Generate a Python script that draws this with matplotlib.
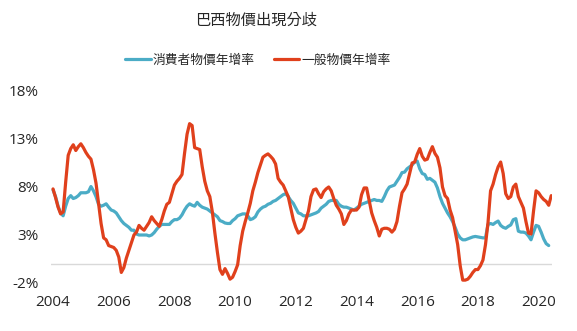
import numpy as np
import matplotlib
matplotlib.use('Agg')
import matplotlib.pyplot as plt

plt.rcParams['font.family'] = ['Open Sans', 'Noto Sans CJK TC', 'DejaVu Sans']

# monthly 12-month rates (%), Jan 2004 onward
igp = [7.8, 6.9, 5.9, 5.2, 5.4, 8.5, 11.3, 12.0, 12.4, 11.8, 12.2, 12.5,
       12.1, 11.6, 11.2, 10.9, 9.8, 8.4, 6.3, 4.2, 2.7, 2.5, 1.9, 1.8,
       1.7, 1.4, 0.7, -0.9, -0.4, 0.6, 1.4, 2.2, 3.0, 3.3, 4.0, 3.7,
       3.5, 3.9, 4.3, 4.9, 4.5, 4.2, 3.9, 4.6, 5.5, 6.2, 6.4, 7.3,
       8.2, 8.6, 8.9, 9.3, 11.5, 13.5, 14.6, 14.4, 12.1, 12.0, 11.9, 10.1,
       8.6, 7.6, 7.0, 5.4, 3.2, 1.2, -0.6, -1.1, -0.5, -1.0, -1.6, -1.4,
       -0.8, -0.1, 1.9, 3.4, 4.4, 5.3, 6.3, 7.6, 8.5, 9.5, 10.3, 11.1,
       11.3, 11.45, 11.2, 10.9, 10.4, 8.9, 8.5, 8.2, 7.6, 7.0, 5.8, 4.6,
       3.8, 3.2, 3.4, 3.7, 4.6, 5.5, 7.0, 7.7, 7.8, 7.3, 6.9, 7.5,
       7.8, 8.0, 7.6, 6.8, 6.1, 5.7, 5.2, 4.1, 4.5, 5.2, 5.6, 5.6,
       5.6, 5.9, 7.2, 7.9, 7.9, 6.6, 5.3, 4.5, 3.8, 2.9, 3.6, 3.7,
       3.7, 3.6, 3.3, 3.6, 4.4, 6.0, 7.4, 7.8, 8.3, 9.4, 10.5, 10.6,
       11.4, 12.0, 11.2, 10.8, 10.9, 11.6, 12.2, 11.5, 11.1, 10.0, 8.0, 7.1,
       6.8, 5.6, 4.8, 3.4, 2.0, -0.2, -1.7, -1.7, -1.6, -1.3, -0.9, -0.6,
       -0.6, -0.2, 0.4, 2.0, 4.3, 7.6, 8.3, 9.3, 10.1, 10.6, 9.4, 7.3,
       6.8, 7.0, 8.0, 8.3, 7.0, 6.4, 5.8, 4.4, 3.2, 3.1, 5.5, 7.6,
       7.4, 7.0, 6.7, 6.5, 6.1, 7.1]

ipca = [7.7, 7.0, 6.0, 5.3, 5.0, 6.0, 6.8, 7.1, 6.8, 6.9, 7.1, 7.4,
        7.4, 7.4, 7.5, 8.05, 7.6, 7.0, 6.2, 6.0, 6.1, 6.25, 5.9, 5.6,
        5.5, 5.3, 4.9, 4.5, 4.2, 4.0, 3.8, 3.5, 3.5, 3.1, 3.0, 3.0,
        3.0, 3.0, 2.9, 3.0, 3.25, 3.6, 3.9, 4.1, 4.1, 4.1, 4.1, 4.4,
        4.6, 4.6, 4.75, 5.1, 5.6, 6.0, 6.25, 6.1, 6.0, 6.4, 6.1, 5.9,
        5.8, 5.7, 5.5, 5.3, 5.1, 4.9, 4.5, 4.4, 4.25, 4.2, 4.2, 4.5,
        4.7, 5.0, 5.1, 5.2, 5.2, 5.0, 4.6, 4.7, 4.9, 5.4, 5.7, 5.9,
        6.0, 6.2, 6.3, 6.5, 6.6, 6.8, 7.0, 7.2, 7.3, 7.0, 6.6, 6.3,
        5.8, 5.3, 5.2, 5.0, 5.0, 5.0, 5.1, 5.2, 5.3, 5.45, 5.8, 6.0,
        6.2, 6.5, 6.6, 6.6, 6.6, 6.2, 6.0, 5.9, 5.9, 5.8, 5.7, 5.6,
        5.8, 6.0, 6.2, 6.3, 6.4, 6.5, 6.6, 6.7, 6.6, 6.6, 6.5, 7.0,
        7.6, 8.0, 8.1, 8.2, 8.6, 9.0, 9.5, 9.55, 9.9, 10.1, 10.3, 10.6,
        10.7, 9.9, 9.4, 9.3, 8.8, 8.9, 8.7, 8.5, 7.9, 7.0, 6.3, 5.8,
        5.3, 4.9, 4.4, 3.8, 3.1, 2.7, 2.5, 2.5, 2.6, 2.7, 2.8, 2.85,
        2.8, 2.75, 2.7, 2.7, 4.1, 4.2, 4.1, 4.3, 4.45, 4.0, 3.8, 3.7,
        3.9, 4.05, 4.6, 4.7, 3.4, 3.3, 3.3, 3.2, 2.9, 2.5, 3.3, 4.0,
        3.9, 3.3, 2.6, 2.1, 1.9]

years = ['2004', '2006', '2008', '2010', '2012', '2014', '2016', '2018', '2020']
yticks = [-2, 3, 8, 13, 18]

fig = plt.figure(figsize=(5.77, 3.31), dpi=100)
ax = fig.add_axes([51 / 577, 48 / 331, 501 / 577, 192 / 331])

ax.axhline(0, color='#d9d9d9', lw=1.0, zorder=1)
l1, = ax.plot(np.arange(len(ipca)), ipca, color='#4bacc6', lw=2.3,
              solid_capstyle='round', zorder=2)
l2, = ax.plot(np.arange(len(igp)), igp, color='#e0401c', lw=2.3,
              solid_capstyle='round', zorder=3)

ax.set_xlim(-0.8, 197.3)
ax.set_ylim(-2, 18)
ax.set_yticks(yticks)
ax.set_yticklabels(['%d%%' % v for v in yticks])
ax.set_xticks(np.arange(len(years)) * 24)
ax.set_xticklabels(years)
ax.tick_params(axis='both', length=0, colors='#262626', labelsize=11)
ax.tick_params(axis='y', pad=9)
ax.tick_params(axis='x', pad=9)
for s in ax.spines.values():
    s.set_visible(False)

fig.text(0.444, 1 - 20 / 331, '巴西物價出現分歧', ha='center', va='center',
         fontsize=11, color='#262626', family=['Noto Sans CJK TC'])
fig.legend([l1, l2], ['消費者物價年增率', '一般物價年增率'], loc='center',
           bbox_to_anchor=(0.447, 1 - 60 / 331), ncol=2, frameon=False,
           handlelength=2.0, handletextpad=0.15, columnspacing=1.5,
           prop={'family': 'Noto Sans CJK TC', 'size': 9.2},
           labelcolor='#262626')

fig.savefig('out.png', dpi=100)
